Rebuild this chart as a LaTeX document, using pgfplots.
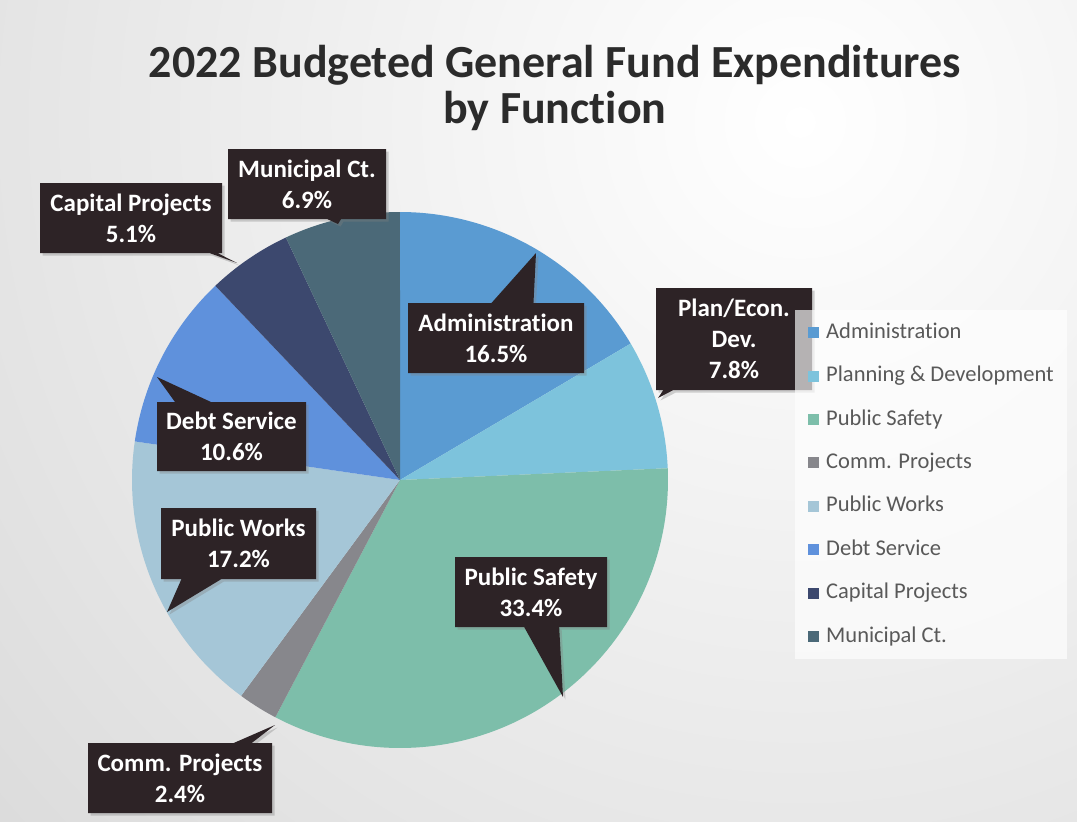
\documentclass[border=0pt]{standalone}
\usepackage{pgfplots}
\pgfplotsset{compat=1.18}
\usepackage{pgfplotstable}
\usepackage{fontspec}
\setmainfont{Carlito}[Ligatures=NoCommon]
\usetikzlibrary{shapes.callouts,shadows}

\definecolor{cAdm}{HTML}{5A9BD2}
\definecolor{cPlan}{HTML}{7DC3DC}
\definecolor{cSafe}{HTML}{7DBEAA}
\definecolor{cComm}{HTML}{87878C}
\definecolor{cWorks}{HTML}{A5C6D7}
\definecolor{cDebt}{HTML}{5F91DC}
\definecolor{cCap}{HTML}{3C486E}
\definecolor{cMun}{HTML}{4B6978}
\definecolor{boxc}{HTML}{2D2326}
\definecolor{titlec}{HTML}{2B2B2B}
\definecolor{legc}{HTML}{595959}
\definecolor{bgc}{HTML}{D9D9D9}

\pgfplotstableread{
key pct
Administration 16.5
Planning 7.8
Safety 33.4
Comm 2.4
Works 17.2
Debt 10.6
Capital 5.1
Municipal 6.9
}\piedata

% cumulative angles (degrees, clockwise from 12 o'clock)
\pgfplotstablegetelem{0}{pct}\of\piedata\pgfmathsetmacro\eA{3.6*\pgfplotsretval}
\pgfplotstablegetelem{1}{pct}\of\piedata\pgfmathsetmacro\eB{\eA+3.6*\pgfplotsretval}
\pgfplotstablegetelem{2}{pct}\of\piedata\pgfmathsetmacro\eC{\eB+3.6*\pgfplotsretval}
\pgfplotstablegetelem{3}{pct}\of\piedata\pgfmathsetmacro\eD{\eC+3.6*\pgfplotsretval}
\pgfplotstablegetelem{4}{pct}\of\piedata\pgfmathsetmacro\eE{\eD+3.6*\pgfplotsretval}
\pgfplotstablegetelem{5}{pct}\of\piedata\pgfmathsetmacro\eF{\eE+3.6*\pgfplotsretval}
\pgfplotstablegetelem{6}{pct}\of\piedata\pgfmathsetmacro\eG{\eF+3.6*\pgfplotsretval}

\tikzset{
  lab/.style={rectangle callout, fill=boxc, text=white,
    font=\fontsize{25}{31}\selectfont\bfseries, align=center, inner sep=0pt,
    drop shadow={shadow xshift=2.5pt, shadow yshift=-2.5pt, opacity=0.35}},
  slice/.style={fill=#1, draw=none, samples=90, variable=\t}
}

\begin{document}
\begin{tikzpicture}
\path[use as bounding box] (0,0) rectangle (1077pt,822pt);
\fill[bgc] (0,0) rectangle (1077pt,822pt);
\begin{scope}
\clip (0,0) rectangle (1077pt,822pt);
\shade[inner color=white, outer color=bgc] (800pt,700pt) circle (1150pt);
\end{scope}
\begin{axis}[
  at={(0pt,0pt)}, anchor=south west,
  scale only axis, width=1077pt, height=822pt,
  xmin=0, xmax=1077, ymin=0, ymax=822, y dir=reverse,
  hide axis, clip=false,
  legend cell align=left,
  legend style={at={(axis cs:795,310)}, anchor=north west, draw=none,
    fill=white, fill opacity=0.65, text opacity=1,
    inner xsep=13pt, inner ysep=12pt, row sep=22.4pt, column sep=0pt,
    font=\fontsize{22.5}{27}\selectfont, text=legc,
    nodes={inner sep=0pt, text height=16pt, text depth=5pt}},
  legend image code/.code={\fill[#1, fill opacity=1, opacity=1] (0pt,-5.5pt) rectangle (11pt,5.5pt); \path (18pt,0pt);},
]
\addplot[slice=cAdm, domain=0:\eA] ({400+268*sin(\t)},{480-268*cos(\t)}) -- (axis cs:400,480) -- cycle;
\addlegendentry{Administration}
\addplot[slice=cPlan, domain=\eA:\eB] ({400+268*sin(\t)},{480-268*cos(\t)}) -- (axis cs:400,480) -- cycle;
\addlegendentry{Planning \& Development}
\addplot[slice=cSafe, domain=\eB:\eC] ({400+268*sin(\t)},{480-268*cos(\t)}) -- (axis cs:400,480) -- cycle;
\addlegendentry{Public Safety}
\addplot[slice=cComm, domain=\eC:\eD] ({400+268*sin(\t)},{480-268*cos(\t)}) -- (axis cs:400,480) -- cycle;
\addlegendentry{Comm. Projects}
\addplot[slice=cWorks, domain=\eD:\eE] ({400+268*sin(\t)},{480-268*cos(\t)}) -- (axis cs:400,480) -- cycle;
\addlegendentry{Public Works}
\addplot[slice=cDebt, domain=\eE:\eF] ({400+268*sin(\t)},{480-268*cos(\t)}) -- (axis cs:400,480) -- cycle;
\addlegendentry{Debt Service}
\addplot[slice=cCap, domain=\eF:\eG] ({400+268*sin(\t)},{480-268*cos(\t)}) -- (axis cs:400,480) -- cycle;
\addlegendentry{Capital Projects}
\addplot[slice=cMun, domain=\eG:360] ({400+268*sin(\t)},{480-268*cos(\t)}) -- (axis cs:400,480) -- cycle;
\addlegendentry{Municipal Ct.}

% title
\node[anchor=base, font=\fontsize{46}{46}\selectfont\bfseries, text=titlec] at (axis cs:555,77) {2022 Budgeted General Fund Expenditures};
\node[anchor=base, font=\fontsize{46}{46}\selectfont\bfseries, text=titlec] at (axis cs:555,123) {by Function};

% data label callouts
\node[lab, minimum width=176pt, minimum height=70pt, callout absolute pointer={(axis cs:536,253)}, callout pointer width=42pt] at (axis cs:496,338) {Administration\\16.5\%};
\node[lab, minimum width=156pt, minimum height=102pt, callout absolute pointer={(axis cs:658,398)}, callout pointer width=10pt] at (axis cs:734,339) {Plan/Econ.\\Dev.\\7.8\%};
\node[lab, minimum width=152pt, minimum height=70pt, callout absolute pointer={(axis cs:563,697)}, callout pointer width=35pt] at (axis cs:531,592) {Public Safety\\33.4\%};
\node[lab, minimum width=184pt, minimum height=70pt, callout absolute pointer={(axis cs:275,725)}, callout pointer width=18pt] at (axis cs:180,778) {Comm. Projects\\2.4\%};
\node[lab, minimum width=155pt, minimum height=71pt, callout absolute pointer={(axis cs:167,612)}, callout pointer width=40pt] at (axis cs:238.5,543.5) {Public Works\\17.2\%};
\node[lab, minimum width=149pt, minimum height=69pt, callout absolute pointer={(axis cs:157,377)}, callout pointer width=36pt] at (axis cs:231.5,436.5) {Debt Service\\10.6\%};
\node[lab, minimum width=182pt, minimum height=70pt, callout absolute pointer={(axis cs:237,263)}, callout pointer width=8pt] at (axis cs:131,218) {Capital Projects\\5.1\%};
\node[lab, minimum width=158pt, minimum height=70pt, callout absolute pointer={(axis cs:338,224)}, callout pointer width=14pt] at (axis cs:307,184) {Municipal Ct.\\6.9\%};
\end{axis}
\end{tikzpicture}
\end{document}
